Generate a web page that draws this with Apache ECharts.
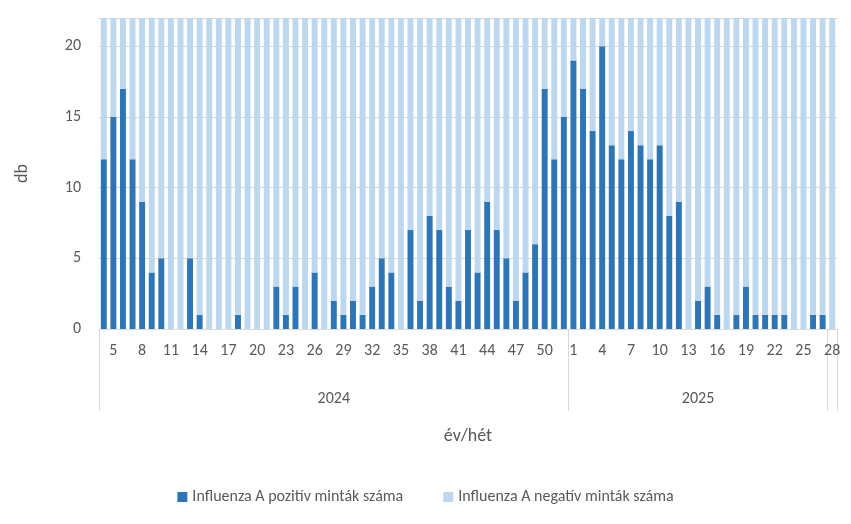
<!DOCTYPE html>
<html><head><meta charset="utf-8">
<script src="https://cdn.jsdelivr.net/npm/echarts@6/dist/echarts.min.js"></script>
<style>html,body{margin:0;padding:0;background:#fff}#c{width:851px;height:524px}</style>
</head><body><div id="c"></div>
<script>
const weeks2024 = ['4','5','6','7','8','9','10','11','12','13','14','15','16','17','18','19','20','21','22','23','24','25','26','27','28','29','30','31','32','33','34','35','36','37','38','39','40','41','42','43','44','45','46','47','48','49','50','51','52'];
const weeks2025 = ['1','2','3','4','5','6','7','8','9','10','11','12','13','14','15','16','17','18','19','20','21','22','23','24','25','26','27','28'];
const pos2024 = [12,15,17,12,9,4,5,0,0,5,1,0,0,0,1,0,0,0,3,1,3,0,4,0,2,1,2,1,3,5,4,0,7,2,8,7,3,2,7,4,9,7,5,2,4,6,17,12,15];
const pos2025 = [19,17,14,20,13,12,14,13,12,13,8,9,0,2,3,1,0,1,3,1,1,1,1,0,0,1,1,0];
const neg2024 = [10,7,5,10,13,18,17,22,22,17,21,22,22,22,21,22,22,22,19,21,19,22,18,22,20,21,20,21,19,17,18,22,15,20,14,15,19,20,15,18,13,15,17,20,18,16,5,10,7];
const neg2025 = [3,5,8,2,9,10,8,9,10,9,14,13,22,20,19,21,22,21,19,21,21,21,21,22,22,21,21,22];
const yearLabels = ['2024','2025'];

const cats = weeks2024.concat(weeks2025);
const years = weeks2024.map(()=>yearLabels[0]).concat(weeks2025.map(()=>yearLabels[1]));
const n24 = weeks2024.length;
const mid24 = Math.floor(n24/2), mid25 = n24 + Math.floor(weeks2025.length/2) - 1;
const font = 'Calibri, Carlito, "Liberation Sans", sans-serif';
const chart = echarts.init(document.getElementById('c'));
chart.setOption({
  animation:false,
  textStyle:{fontFamily:font},
  grid:{left:99,right:14,top:18,bottom:195},
  legend:{bottom:14,itemWidth:10,itemHeight:10,itemGap:40,icon:'rect',
    textStyle:{fontSize:16,color:'#595959',fontFamily:font}},
  xAxis:[{
    type:'category',data:cats,
    axisLine:{lineStyle:{color:'#D9D9D9'}},axisTick:{show:false},
    axisLabel:{interval:(i)=>i%3===1,color:'#595959',fontSize:16,margin:14,fontFamily:font},
    name:'év/hét',nameLocation:'middle',nameGap:98,
    nameTextStyle:{fontSize:18,color:'#595959',fontFamily:font}
  },{
    type:'category',data:years,position:'bottom',
    axisLine:{show:false},
    axisTick:{show:true,length:82,inside:false,interval:(i)=>i===0||i===n24||i===cats.length-1,lineStyle:{color:'#D9D9D9'}},
    axisLabel:{interval:(i)=>i===mid24||i===mid25,color:'#595959',fontSize:16,margin:62,fontFamily:font}
  }],
  yAxis:{type:'value',min:0,max:22,interval:5,
    axisLabel:{showMaxLabel:false,color:'#595959',fontSize:16,fontFamily:font,margin:18},
    splitLine:{lineStyle:{color:'#D9D9D9'}},
    name:'db',nameLocation:'middle',nameGap:68,nameRotate:90,
    nameTextStyle:{fontSize:18,color:'#595959',fontFamily:font}},
  series:[
    {name:'Influenza A pozitív minták száma',type:'bar',stack:'a',data:pos2024.concat(pos2025),
      itemStyle:{color:'#2E75B6'},barCategoryGap:'38%'},
    {name:'Influenza A negatív minták száma',type:'bar',stack:'a',data:neg2024.concat(neg2025),
      itemStyle:{color:'#BDD7EE'},barCategoryGap:'38%'}
  ]
});
</script></body></html>
